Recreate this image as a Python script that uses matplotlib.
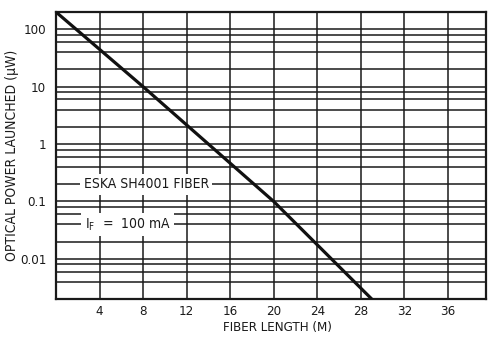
import matplotlib
matplotlib.use("Agg")
import matplotlib.pyplot as plt
from matplotlib.ticker import LogLocator, NullFormatter, FixedLocator

plt.rcParams['font.family'] = ['DejaVu Sans']
plt.rcParams['font.stretch'] = 'condensed'

# curve
fiberLength = [0, 8, 20, 29]
powerLaunched = [200, 10, 0.1, 0.002]

xTicks = [4, 8, 12, 16, 20, 24, 28, 32, 36]
yTicks = [0.01, 0.1, 1, 10, 100]
yTickLabels = ["0.01", "0.1", "1", "10", "100"]

fig = plt.figure(figsize=(4.88, 3.44), dpi=100)
ax = fig.add_axes([56/488, 1-299/344, 430/488, 287/344])

ax.set_yscale("log")
ax.set_xlim(0, 39.5)
ax.set_ylim(0.002, 200)

ax.xaxis.set_major_locator(FixedLocator(xTicks))
ax.set_xticklabels([str(t) for t in xTicks])
ax.yaxis.set_major_locator(FixedLocator(yTicks))
ax.set_yticklabels(yTickLabels)
ax.yaxis.set_minor_locator(LogLocator(base=10, subs=(2, 4, 6, 8)))
ax.yaxis.set_minor_formatter(NullFormatter())

ax.grid(True, which="both", color="#1a1a1a", linewidth=1.1)
ax.set_axisbelow(True)
ax.tick_params(which="both", length=0, labelsize=9.5, colors="#1a1a1a")
ax.tick_params(axis="x", pad=4)
ax.tick_params(axis="y", pad=7)
for s in ax.spines.values():
    s.set_linewidth(1.6)
    s.set_color("#1a1a1a")

ax.plot(fiberLength, powerLaunched, color="#111111", linewidth=2.3, zorder=3)

ax.text(8.3, 0.2, "ESKA SH4001 FIBER", ha="center", va="center", fontsize=10,
        color="#1a1a1a", zorder=4,
        bbox=dict(facecolor="white", edgecolor="none", pad=2.5))
ax.text(6.6, 0.04, r"I$_\mathregular{F}$  =  100 mA", ha="center", va="center",
        fontsize=10, color="#1a1a1a", zorder=4,
        bbox=dict(facecolor="white", edgecolor="none", pad=2.5))

ax.set_xlabel("FIBER LENGTH (M)", fontsize=9.5, color="#1a1a1a")
ax.xaxis.set_label_coords(0.515, -0.076)
ax.set_ylabel("OPTICAL POWER LAUNCHED (\u03bcW)", fontsize=10, color="#1a1a1a")
ax.yaxis.set_label_coords(-0.086, 0.5)

fig.savefig("out.png", dpi=100)
